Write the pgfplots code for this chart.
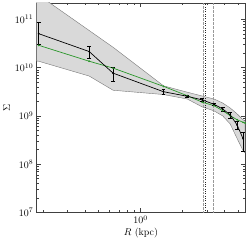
\documentclass[border=0pt]{standalone}
\usepackage{pgfplots}
\pgfplotsset{compat=1.18}
\usepackage{pgfplotstable}
\definecolor{bandfill}{RGB}{217,217,217}
\definecolor{bandedge}{RGB}{120,120,120}
\definecolor{mygreen}{RGB}{40,150,40}
\pgfplotstableread{
x y ep em
0.186 5.07e10 3.6e10 2.0e10
0.428 2.16e10 0.61e10 0.63e10
0.635 7.7e9 2.5e9 2.6e9
1.46 3.17e9 0.4e9 0.4e9
2.16 2.55e9 0.15e9 0.15e9
2.77 2.14e9 0.15e9 0.15e9
3.36 1.74e9 0.12e9 0.12e9
3.88 1.39e9 0.15e9 0.15e9
4.39 1.05e9 0.15e9 0.15e9
4.92 6.5e8 1.2e8 1.2e8
5.43 3.36e8 1.3e8 1.55e8
}\blackdata
\pgfplotstableread{
x y
0.186 2.91e10
0.428 1.36e10
0.635 9.8e9
1.46 4.1e9
2.16 2.62e9
2.77 1.92e9
3.36 1.63e9
3.88 1.28e9
4.39 1.01e9
4.92 8.3e8
5.43 7.35e8
5.61 7.1e8
}\greendata
\begin{document}
\begin{tikzpicture}
\begin{axis}[
  scale only axis, width=210pt, height=211pt,
  xmode=log, ymode=log,
  xmin=0.18, xmax=5.61, ymin=1e7, ymax=2.2e11,
  xtick={1}, minor xtick={0.2,0.3,0.4,0.5,0.6,0.7,0.8,0.9,2,3,4,5},
  ytick={1e7,1e8,1e9,1e10,1e11},
  tick align=inside, major tick length=4pt, minor tick length=2pt,
  xtick pos=both, ytick pos=both,
  axis line style={black!75, line width=0.5pt},
  every tick/.style={black!75, line width=0.4pt},
  xlabel={$R$ (kpc)}, ylabel={$\Sigma$},
  xlabel style={yshift=3pt},
  ylabel style={yshift=-2pt},
]
\addplot[fill=bandfill, draw=bandedge, line width=0.4pt] coordinates {
(0.18,3.3e11) (0.186,3.2e11) (0.428,5.9e10) (0.635,2.65e10) (1.46,4.2e9) (2.16,3.1e9) (2.77,2.58e9) (3.36,2.24e9) (3.88,1.85e9) (4.39,1.46e9) (4.92,1.1e9) (5.43,8.3e8) (5.61,7.8e8)
(5.61,1.7e8) (5.43,1.9e8) (4.92,3.4e8) (4.39,6.8e8) (3.88,1.0e9) (3.36,1.27e9) (2.77,1.53e9) (2.16,2.24e9) (1.46,2.77e9) (0.635,3.4e9) (0.428,6.7e9) (0.186,1.36e10) (0.18,1.37e10)
} -- cycle;
\addplot[black!40, densely dotted, line width=0.35pt] coordinates {(2.80,1e7) (2.80,2.2e11)};
\addplot[black!40, densely dotted, line width=0.35pt] coordinates {(3.34,1e7) (3.34,2.2e11)};
\addplot[black!85, dotted, line width=0.35pt] coordinates {(2.89,1e7) (2.89,2.2e11)};
\addplot[mygreen, line width=0.7pt, mark=*, mark size=0.5pt] table[x=x,y=y] {\greendata};
\addplot[black, line width=0.7pt, mark=*, mark size=0.5pt,
  error bars/.cd, y dir=both, y explicit,
  error bar style={line width=0.6pt}, error mark options={rotate=90, mark size=2pt, line width=0.6pt}]
  table[x=x,y=y,y error plus=ep,y error minus=em] {\blackdata};
\end{axis}
\path ([xshift=-35pt,yshift=-30pt]current axis.south west) rectangle ([xshift=4pt,yshift=3pt]current axis.north east);
\end{tikzpicture}
\end{document}
